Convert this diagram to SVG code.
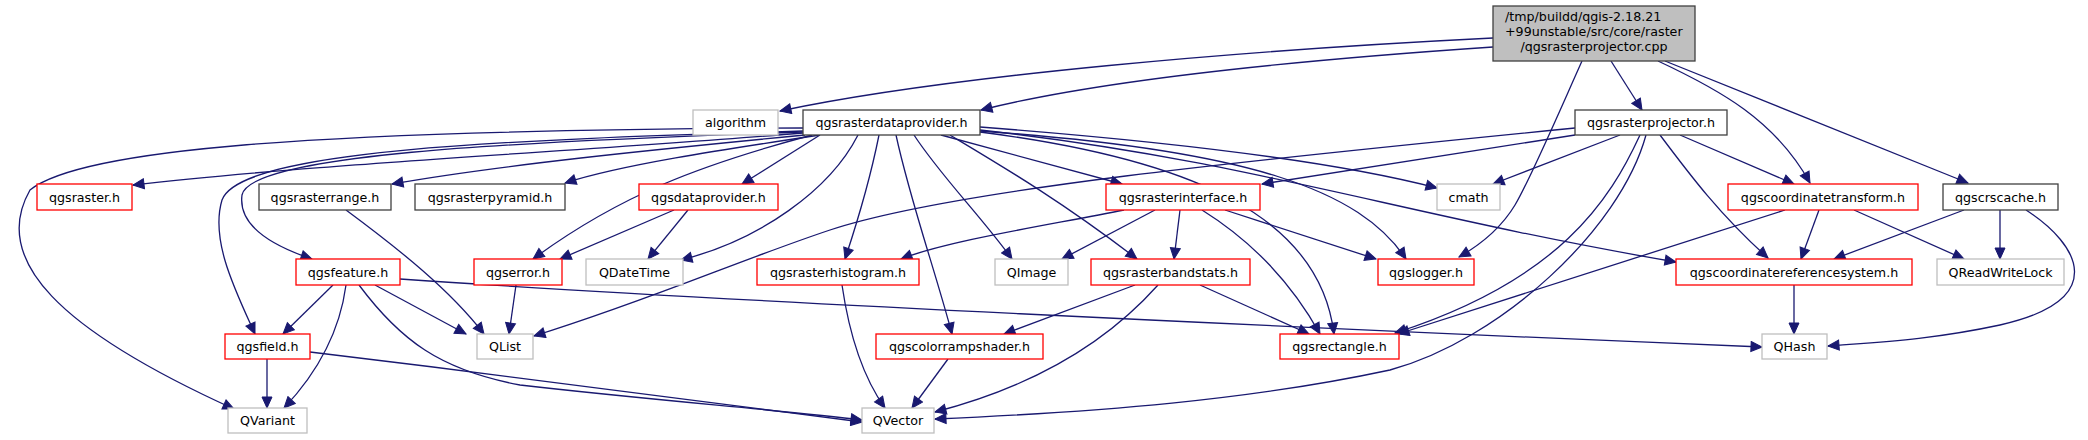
<svg xmlns="http://www.w3.org/2000/svg" width="2088" height="440" viewBox="0 0 2088 440">
<defs>
<style>
.n rect{stroke-width:1.3}
.b rect{fill:#fff;stroke:#404040}
.r rect{fill:#fff;stroke:#ff0000}
.g rect{fill:#fff;stroke:#bfbfbf}
.m rect{fill:#bfbfbf;stroke:#404040}
text{font-family:"DejaVu Sans","Liberation Sans",sans-serif;font-size:12.67px;fill:#000;text-anchor:middle}
#edges path{fill:none;stroke:#191970;stroke-width:1.3;marker-end:url(#ah)}
</style>
<marker id="ah" markerUnits="userSpaceOnUse" markerWidth="13" markerHeight="12" viewBox="0 -6 12 12" refX="11.5" refY="0" orient="auto">
<path d="M0.5,-5 L11.5,0 L0.5,5 z" fill="#191970" stroke="#191970" stroke-width="1"/>
</marker>
</defs>
<rect width="2088" height="440" fill="#fff"/>
<g id="edges">
<path d="M1493,38 C1250,50 950,75 780,111"/>
<path d="M1493,47 C1300,60 1100,80 981,110"/>
<path d="M1611,61 L1642,110"/>
<path d="M1658,61 C1720,90 1775,120 1810,183"/>
<path d="M1665,61 L1968,183"/>
<path d="M1582,61 C1560,110 1530,180 1515,205 C1500,230 1480,245 1459,257"/>
<path d="M1620,135 L1493,184"/>
<path d="M1680,135 L1794,184"/>
<path d="M1660,135 C1690,175 1720,215 1768,258"/>
<path d="M1640,135 C1610,200 1560,280 1395,333"/>
<path d="M1646,135 C1620,230 1500,340 1390,370 C1250,400 1100,412 935,419"/>
<path d="M1575,135 L1262,184"/>
<path d="M1575,128 C1250,160 950,190 830,230 C740,260 650,300 534,336"/>
<path d="M803,133 C600,150 300,165 133,185"/>
<path d="M805,135 C650,150 500,165 392,184"/>
<path d="M820,135 C720,150 620,165 565,183"/>
<path d="M820,135 L742,184"/>
<path d="M803,128 C300,130 80,150 30,190 C-10,260 60,330 234,409"/>
<path d="M803,131 C500,140 240,150 222,200 C210,240 235,290 255,334"/>
<path d="M803,132 C500,142 250,155 242,195 C238,225 270,245 312,259"/>
<path d="M812,135 C700,165 620,195 533,259"/>
<path d="M858,135 C830,190 760,240 681,260"/>
<path d="M879,135 C870,180 858,220 845,259"/>
<path d="M914,135 C940,175 980,215 1012,259"/>
<path d="M896,135 C910,200 935,270 952,334"/>
<path d="M941,135 L1122,184"/>
<path d="M950,135 C1000,165 1060,200 1137,259"/>
<path d="M980,127 C1150,140 1330,160 1437,188"/>
<path d="M980,130 C1250,160 1400,215 1676,262"/>
<path d="M980,132 C1200,160 1320,220 1334,334"/>
<path d="M980,131 C1250,150 1360,190 1406,259"/>
<path d="M346,210 C400,250 450,290 484,334"/>
<path d="M674,210 L560,259"/>
<path d="M688,210 L648,259"/>
<path d="M1124,210 C1050,225 950,240 901,259"/>
<path d="M1155,210 L1062,259"/>
<path d="M1180,210 L1174,259"/>
<path d="M1202,210 C1250,240 1290,280 1320,334"/>
<path d="M1225,210 L1376,259"/>
<path d="M1785,210 L1398,334"/>
<path d="M1819,210 L1801,259"/>
<path d="M1854,210 L1964,259"/>
<path d="M1964,210 L1834,259"/>
<path d="M2000,210 L2000,259"/>
<path d="M2026,210 C2080,245 2110,300 2000,325 C1930,340 1880,342 1828,346"/>
<path d="M333,285 L283,334"/>
<path d="M346,285 C340,330 320,370 284,408"/>
<path d="M375,285 L466,334"/>
<path d="M359,285 C400,340 440,370 520,385 C650,400 780,410 862,420"/>
<path d="M400,279 C700,300 1300,328 1762,347"/>
<path d="M516,285 L509,334"/>
<path d="M267,359 L267,408"/>
<path d="M310,352 C500,375 700,400 862,422"/>
<path d="M842,285 C850,340 865,380 885,408"/>
<path d="M1135,285 L1004,334"/>
<path d="M1158,285 C1100,350 1020,390 935,412"/>
<path d="M1200,285 L1309,334"/>
<path d="M948,359 L912,408"/>
<path d="M1794,285 L1794,334"/>
</g>
<g id="n_main" class="n m"><rect x="1493" y="6" width="202" height="55"/><text x="1505" y="21" style="text-anchor:start">/tmp/buildd/qgis-2.18.21</text><text x="1505" y="36" style="text-anchor:start">+99unstable/src/core/raster</text><text x="1594" y="51">/qgsrasterprojector.cpp</text></g>
<g id="n_algorithm" class="n g"><rect x="693" y="110" width="85" height="25"/><text x="735.5" y="127">algorithm</text></g>
<g id="n_qgsrasterdataprovider" class="n b"><rect x="803" y="110" width="177" height="25"/><text x="891.5" y="127">qgsrasterdataprovider.h</text></g>
<g id="n_qgsrasterprojector" class="n b"><rect x="1575" y="110" width="152" height="25"/><text x="1651" y="127">qgsrasterprojector.h</text></g>
<g id="n_qgsraster" class="n r"><rect x="37" y="184" width="95" height="26"/><text x="84.5" y="201.5">qgsraster.h</text></g>
<g id="n_qgsrasterrange" class="n b"><rect x="259" y="184" width="132" height="26"/><text x="325" y="201.5">qgsrasterrange.h</text></g>
<g id="n_qgsrasterpyramid" class="n b"><rect x="415" y="184" width="150" height="26"/><text x="490" y="201.5">qgsrasterpyramid.h</text></g>
<g id="n_qgsdataprovider" class="n r"><rect x="639" y="184" width="139" height="26"/><text x="708.5" y="201.5">qgsdataprovider.h</text></g>
<g id="n_qgsrasterinterface" class="n r"><rect x="1106" y="184" width="154" height="26"/><text x="1183" y="201.5">qgsrasterinterface.h</text></g>
<g id="n_cmath" class="n g"><rect x="1437" y="184" width="63" height="26"/><text x="1468.5" y="201.5">cmath</text></g>
<g id="n_qgscoordinatetransform" class="n r"><rect x="1728" y="184" width="190" height="26"/><text x="1823" y="201.5">qgscoordinatetransform.h</text></g>
<g id="n_qgscrscache" class="n b"><rect x="1943" y="184" width="115" height="26"/><text x="2000.5" y="201.5">qgscrscache.h</text></g>
<g id="n_qgsfeature" class="n r"><rect x="296" y="259" width="104" height="26"/><text x="348" y="276.5">qgsfeature.h</text></g>
<g id="n_qgserror" class="n r"><rect x="474" y="259" width="88" height="26"/><text x="518" y="276.5">qgserror.h</text></g>
<g id="n_QDateTime" class="n g"><rect x="586" y="259" width="97" height="26"/><text x="634.5" y="276.5">QDateTime</text></g>
<g id="n_qgsrasterhistogram" class="n r"><rect x="757" y="259" width="162" height="26"/><text x="838" y="276.5">qgsrasterhistogram.h</text></g>
<g id="n_QImage" class="n g"><rect x="995" y="259" width="73" height="26"/><text x="1031.5" y="276.5">QImage</text></g>
<g id="n_qgsrasterbandstats" class="n r"><rect x="1091" y="259" width="159" height="26"/><text x="1170.5" y="276.5">qgsrasterbandstats.h</text></g>
<g id="n_qgslogger" class="n r"><rect x="1378" y="259" width="96" height="26"/><text x="1426" y="276.5">qgslogger.h</text></g>
<g id="n_qgscoordinatereferencesystem" class="n r"><rect x="1676" y="259" width="236" height="26"/><text x="1794" y="276.5">qgscoordinatereferencesystem.h</text></g>
<g id="n_QReadWriteLock" class="n g"><rect x="1937" y="259" width="127" height="26"/><text x="2000.5" y="276.5">QReadWriteLock</text></g>
<g id="n_qgsfield" class="n r"><rect x="225" y="334" width="85" height="25"/><text x="267.5" y="351">qgsfield.h</text></g>
<g id="n_QList" class="n g"><rect x="477" y="334" width="56" height="25"/><text x="505" y="351">QList</text></g>
<g id="n_qgscolorrampshader" class="n r"><rect x="876" y="334" width="167" height="25"/><text x="959.5" y="351">qgscolorrampshader.h</text></g>
<g id="n_qgsrectangle" class="n r"><rect x="1280" y="334" width="119" height="25"/><text x="1339.5" y="351">qgsrectangle.h</text></g>
<g id="n_QHash" class="n g"><rect x="1762" y="334" width="65" height="25"/><text x="1794.5" y="351">QHash</text></g>
<g id="n_QVariant" class="n g"><rect x="228" y="408" width="79" height="25"/><text x="267.5" y="425">QVariant</text></g>
<g id="n_QVector" class="n g"><rect x="862" y="408" width="72" height="25"/><text x="898" y="425">QVector</text></g>
</svg>
